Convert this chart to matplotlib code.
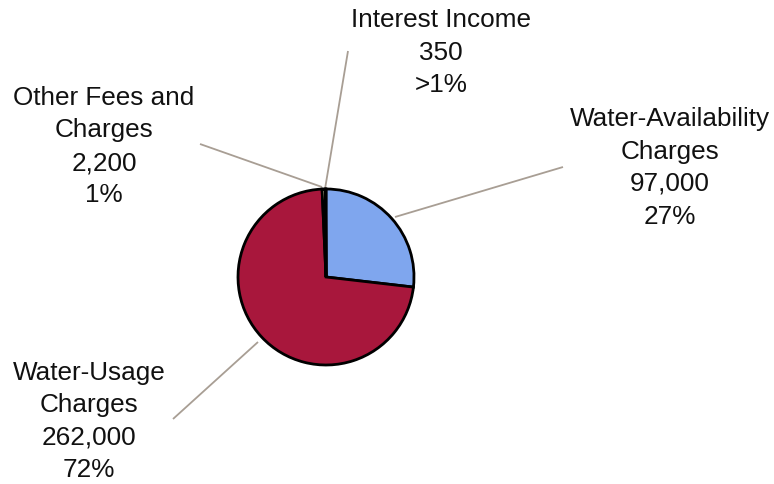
import matplotlib
matplotlib.use("Agg")
import matplotlib.pyplot as plt

# Revenue sources
categories = ["Water-Availability\nCharges", "Water-Usage\nCharges",
              "Other Fees and\nCharges", "Interest Income"]
values = [97000, 262000, 2200, 350]
value_labels = ["97,000", "262,000", "2,200", "350"]
pct_labels = ["27%", "72%", "1%", ">1%"]
colors = ["#7FA6EE", "#A8173C", "#FFFFCC", "#CCFFFF"]

W, H = 774, 485
fig = plt.figure(figsize=(W / 100, H / 100), dpi=100)
ax = fig.add_axes([0, 0, 1, 1])

cx, cy, r = 326, H - 278, 88
ax.pie(values, colors=colors, startangle=90, counterclock=False,
       center=(cx, cy), radius=r,
       wedgeprops=dict(edgecolor="black", linewidth=2.0))
ax.set_xlim(0, W)
ax.set_ylim(0, H)
ax.set_aspect("equal")
ax.axis("off")

# leader lines (pixel coords from top-left: start at pie, end near label)
leaders = [
    ((395, 218), (563, 168)),
    ((258, 343), (173, 420)),
    ((322, 188), (200, 145)),
    ((325, 190), (348, 52)),
]
for (x0, y0), (x1, y1) in leaders:
    ax.plot([x0, x1], [H - y0, H - y1], color="#A89E94", lw=1.3,
            solid_capstyle="butt", zorder=0)

# label anchors (center x, first-line center y, measured from top)
label_pos = [(670, 119), (89, 373), (104, 98), (441, 20)]
for cat, v, p, (lx, ly) in zip(categories, value_labels, pct_labels, label_pos):
    lines = cat.split("\n") + [v, p]
    for i, line in enumerate(lines):
        ax.text(lx, H - (ly + i * 32.5), line, ha="center", va="center",
                fontsize=18.8, family="Liberation Sans", color="#111111")

fig.savefig("out.png", dpi=100)
